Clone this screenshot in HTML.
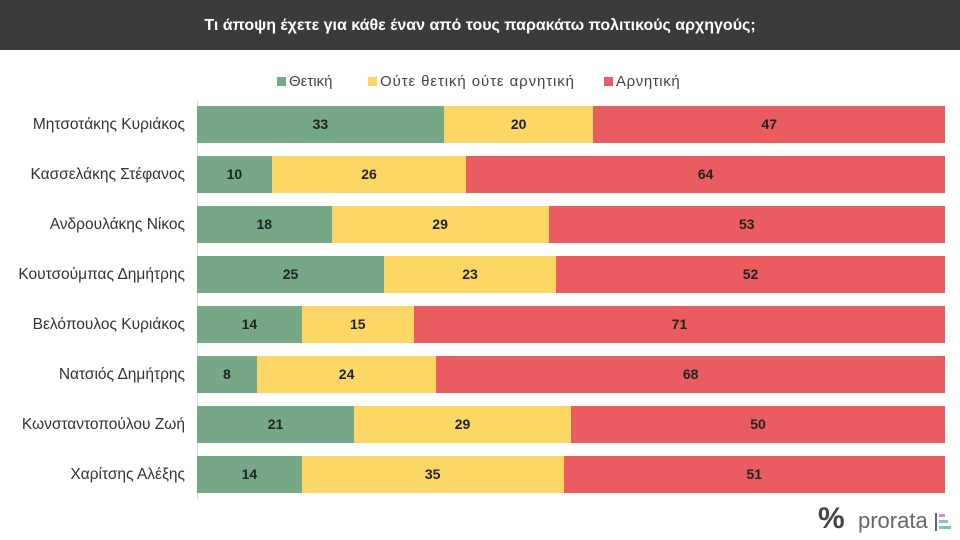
<!DOCTYPE html>
<html><head><meta charset="utf-8"><style>
body{margin:0;width:960px;height:540px;background:#fff;font-family:"Liberation Sans","DejaVu Sans",sans-serif;position:relative;overflow:hidden}
.t{position:absolute;left:0;top:0;width:960px;height:50px;background:#3b3b3b;color:#fff;font-weight:bold;font-size:16px;text-align:center;line-height:52px}
.lg{position:absolute;top:73px;font-size:15px;color:#444}
.lg i{display:inline-block;width:9px;height:9px;margin-right:3px}
.ax{position:absolute;left:197px;top:100px;width:1px;height:400px;background:#e0e0e0}
.row{position:absolute;left:197px;height:37px;width:748px;display:flex}
.row div{height:37px;line-height:37px;text-align:center;font-weight:bold;font-size:14px;color:#222}
.lab{position:absolute;right:775px;font-size:15.5px;color:#333;text-align:right;white-space:nowrap;line-height:37px}
.g{background:#76a888}.y{background:#fcd766}.r{background:#e95c5f}
</style></head><body>
<div class="t">Τι άποψη έχετε για κάθε έναν από τους παρακάτω πολιτικούς αρχηγούς;</div>
<div class="lg" style="left:277px"><i class="g"></i>Θετική</div>
<div class="lg" style="left:368px;letter-spacing:0.9px"><i class="y"></i>Ούτε θετική ούτε αρνητική</div>
<div class="lg" style="left:604px;letter-spacing:0.6px"><i class="r"></i>Αρνητική</div>
<div class="ax"></div>
<div id="c"></div>
<div style="position:absolute;left:818px;top:502px;font-size:30px;color:#444;font-weight:bold">%</div>
<div style="position:absolute;left:858px;top:508px;font-size:22px;color:#666">prorata</div>
<div style="position:absolute;left:935px;top:513px;width:2px;height:18px;background:#666"></div>
<div style="position:absolute;left:939px;top:514px;width:6px;height:3px;background:#e8a"></div>
<div style="position:absolute;left:939px;top:520px;width:9px;height:3px;background:#8bd"></div>
<div style="position:absolute;left:939px;top:526px;width:12px;height:3px;background:#7ca"></div>
<script>
var d=[["Μητσοτάκης Κυριάκος",33,20,47],["Κασσελάκης Στέφανος",10,26,64],["Ανδρουλάκης Νίκος",18,29,53],["Κουτσούμπας Δημήτρης",25,23,52],["Βελόπουλος Κυριάκος",14,15,71],["Νατσιός Δημήτρης",8,24,68],["Κωνσταντοπούλου Ζωή",21,29,50],["Χαρίτσης Αλέξης",14,35,51]];
var h="";d.forEach(function(r,i){var t=106+i*50;
h+='<div class="lab" style="top:'+t+'px">'+r[0]+'</div><div class="row" style="top:'+t+'px"><div class="g" style="width:'+r[1]+'%">'+r[1]+'</div><div class="y" style="width:'+r[2]+'%">'+r[2]+'</div><div class="r" style="width:'+r[3]+'%">'+r[3]+'</div></div>';});
document.getElementById("c").innerHTML=h;
</script>
</body></html>
